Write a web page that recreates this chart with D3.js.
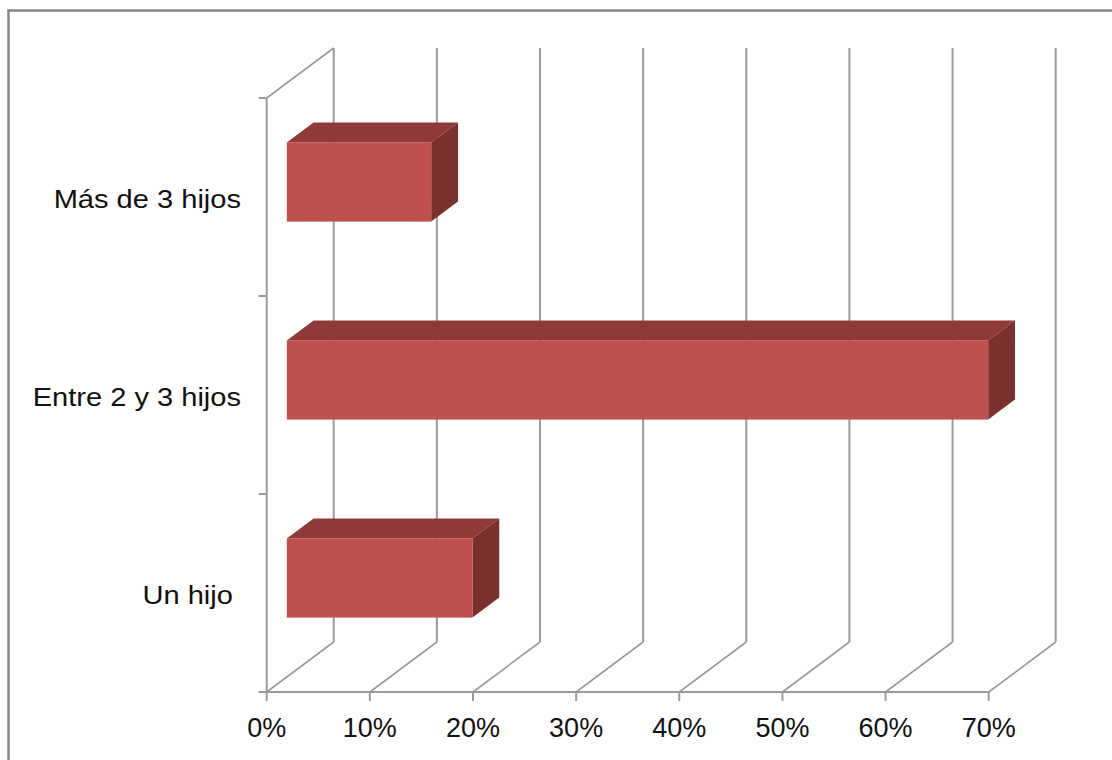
<!DOCTYPE html>
<html>
<head>
<meta charset="utf-8">
<script src="https://cdn.jsdelivr.net/npm/d3@7"></script>
<style>
  html, body { margin: 0; padding: 0; background: #fff; }
  svg { display: block; }
  text { font-family: "Liberation Sans", Arial, sans-serif; fill: #111; }
</style>
</head>
<body>
<svg id="chart" width="1112" height="760"></svg>
<script>
// ---- data ----
const categories = ["Más de 3 hijos", "Entre 2 y 3 hijos", "Un hijo "];
const values = [14, 68, 18];
const tickValues = [0, 10, 20, 30, 40, 50, 60, 70];

// ---- layout ----
const svg = d3.select("#chart");
const depthDX = 67, depthDY = -50;     // full 3D depth offset
const barFront = 0.3, barBack = 0.7;   // depth fractions of bars
const gridColor = "#9b9b9b";

const x = d3.scaleLinear().domain([0, 70]).range([266.7, 988.7]);
const y = d3.scaleBand().domain(categories).range([98, 692])
  .paddingInner(0.6).paddingOuter(0.3);
const yEdges = d3.scaleLinear().domain([0, categories.length]).range([98, 692]);
const floorY = 692, topY = 98;

// outer border
svg.append("rect").attr("x", 8.5).attr("y", 10.5).attr("width", 1300).attr("height", 900)
  .attr("fill", "none").attr("stroke", "#888").attr("stroke-width", 2.5);

const g = svg.append("g");

// back wall gridlines
g.selectAll("line.grid").data(tickValues).join("line").attr("class", "grid")
  .attr("x1", d => x(d) + depthDX).attr("x2", d => x(d) + depthDX)
  .attr("y1", topY + depthDY).attr("y2", floorY + depthDY)
  .attr("stroke", gridColor).attr("stroke-width", 2);

// floor diagonals
g.selectAll("line.floordiag").data(tickValues).join("line").attr("class", "floordiag")
  .attr("x1", d => x(d)).attr("y1", floorY)
  .attr("x2", d => x(d) + depthDX).attr("y2", floorY + depthDY)
  .attr("stroke", gridColor).attr("stroke-width", 1.6);

// left wall: vertical axis + top diagonal
g.append("line").attr("x1", x(0)).attr("x2", x(0)).attr("y1", topY).attr("y2", floorY)
  .attr("stroke", gridColor).attr("stroke-width", 2);
g.append("line").attr("x1", x(0)).attr("y1", topY)
  .attr("x2", x(0) + depthDX).attr("y2", topY + depthDY)
  .attr("stroke", gridColor).attr("stroke-width", 1.6);

// left axis ticks at category boundaries
g.selectAll("line.ytick").data(d3.range(categories.length + 1)).join("line").attr("class", "ytick")
  .attr("x1", x(0) - 8).attr("x2", x(0))
  .attr("y1", d => yEdges(d)).attr("y2", d => yEdges(d))
  .attr("stroke", gridColor).attr("stroke-width", 2);

// floor front line + bottom ticks
g.append("line").attr("x1", x(0) - 8).attr("x2", x(70)).attr("y1", floorY).attr("y2", floorY)
  .attr("stroke", gridColor).attr("stroke-width", 2);
g.selectAll("line.xtick").data(tickValues).join("line").attr("class", "xtick")
  .attr("x1", d => x(d)).attr("x2", d => x(d)).attr("y1", floorY).attr("y2", floorY + 9)
  .attr("stroke", gridColor).attr("stroke-width", 2);

// tick labels
g.selectAll("text.xlab").data(tickValues).join("text").attr("class", "xlab")
  .attr("x", d => x(d)).attr("y", 737).attr("text-anchor", "middle")
  .attr("font-size", 27).text(d => d + "%");

// category labels
g.selectAll("text.ylab").data(categories).join("text").attr("class", "ylab")
  .attr("transform", d => `translate(241,${y(d) + y.bandwidth() / 2 + 11}) scale(1.14,1)`)
  .attr("text-anchor", "end").attr("font-size", 25.5)
  .style("white-space", "pre")
  .text(d => d);

// bars
const data = categories.map((c, i) => ({ c, v: values[i] }));
const fx = barFront * depthDX, fy = barFront * depthDY;
const bx = barBack * depthDX, by = barBack * depthDY;
const bars = g.selectAll("g.bar").data(data).join("g").attr("class", "bar");
bars.append("path").attr("fill", "#8f3a38")
  .attr("d", d => {
    const x0 = x(0), x1 = x(d.v), t = y(d.c);
    return `M${x0 + fx},${t + fy}L${x1 + fx},${t + fy}L${x1 + bx},${t + by}L${x0 + bx},${t + by}Z`;
  });
bars.append("path").attr("fill", "#7b302e")
  .attr("d", d => {
    const x1 = x(d.v), t = y(d.c), b = t + y.bandwidth();
    return `M${x1 + fx},${t + fy}L${x1 + bx},${t + by}L${x1 + bx},${b + by}L${x1 + fx},${b + fy}Z`;
  });
bars.append("rect").attr("fill", "#c0504d")
  .attr("x", d => x(0) + fx).attr("y", d => y(d.c) + fy)
  .attr("width", d => x(d.v) - x(0)).attr("height", y.bandwidth());
</script>
</body>
</html>
